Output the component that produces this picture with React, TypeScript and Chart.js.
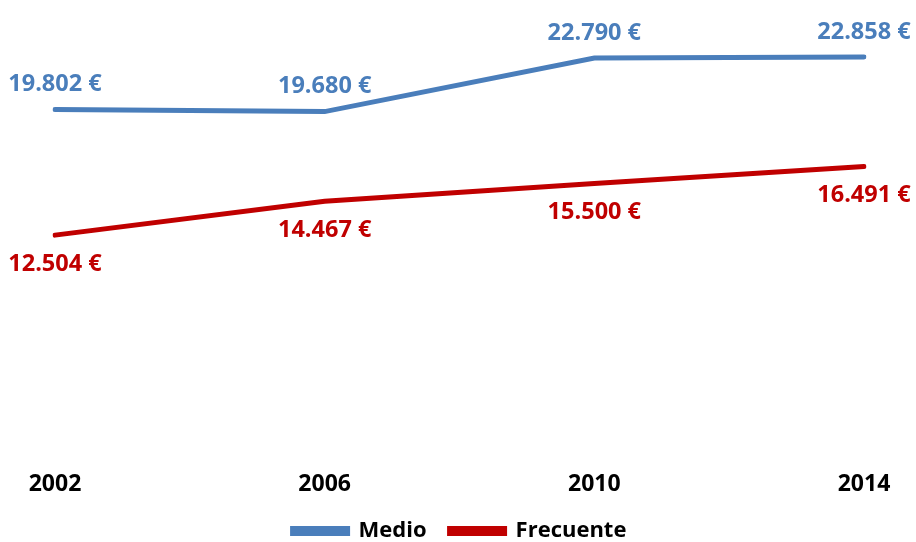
import React, { useEffect, useRef } from "react";
import { Chart, registerables } from "chart.js";

Chart.register(...registerables);

const years = ["2002", "2006", "2010", "2014"];
const medio = [19802, 19680, 22790, 22858];
const frecuente = [12504, 14467, 15500, 16491];

const BLUE = "#4A7EBB";
const RED = "#C00000";
const FONT = "'Open Sans', Lato, sans-serif";

const fmt = (v: number) => {
  const s = String(v);
  return s.replace(/\B(?=(\d{3})+(?!\d))/g, ".") + " €";
};

const labelPlugin = {
  id: "valueLabels",
  afterDatasetsDraw(chart: any) {
    const ctx = chart.ctx;
    ctx.save();
    ctx.font = `bold 23.5px ${FONT}`;
    ctx.textAlign = "center";
    ctx.textBaseline = "middle";
    chart.data.datasets.forEach((ds: any, i: number) => {
      const meta = chart.getDatasetMeta(i);
      ctx.fillStyle = ds.borderColor;
      meta.data.forEach((pt: any, j: number) => {
        const v = ds.data[j] as number;
        const dy = i === 0 ? -25 : 29;
        ctx.fillText(fmt(v), pt.x, pt.y + dy);
      });
    });
    ctx.restore();
  },
};

export default function App() {
  const ref = useRef<HTMLCanvasElement | null>(null);
  useEffect(() => {
    if (!ref.current) return;
    const chart = new Chart(ref.current, {
      type: "line",
      data: {
        labels: years,
        datasets: [
          {
            label: "Medio",
            data: medio,
            borderColor: BLUE,
            backgroundColor: BLUE,
            borderWidth: 5,
            pointRadius: 0,
            tension: 0,
            borderCapStyle: "round",
          },
          {
            label: "Frecuente",
            data: frecuente,
            borderColor: RED,
            backgroundColor: RED,
            borderWidth: 5,
            pointRadius: 0,
            tension: 0,
            borderCapStyle: "round",
          },
        ],
      },
      options: {
        animation: false,
        responsive: false,
        maintainAspectRatio: false,
        layout: { padding: { left: 55, right: 52, top: 20, bottom: 0 } },
        scales: {
          x: {
            offset: false,
            grid: { display: false },
            border: { display: false },
            afterFit: (s: any) => {
              s.height = s.height - 13;
            },
            ticks: {
              color: "#000",
              font: { family: FONT, size: 23, weight: "bold" },
              padding: 12,
              maxRotation: 0,
            },
          },
          y: {
            display: false,
            min: 0,
            max: 25000,
          },
        },
        plugins: {
          legend: {
            position: "bottom",
            labels: {
              color: "#000",
              font: { family: FONT, size: 22, weight: "bold" },
              boxWidth: 55,
              boxHeight: 5,
              padding: 23,
            },
          },
          tooltip: { enabled: false },
        },
      },
      plugins: [labelPlugin],
    });
    return () => chart.destroy();
  }, []);
  return (
    <div style={{ position: "fixed", left: 0, top: 0, width: 916, height: 542, overflow: "hidden", background: "#fff" }}>
      <canvas ref={ref} width={916} height={552} style={{ display: "block" }} />
    </div>
  );
}
